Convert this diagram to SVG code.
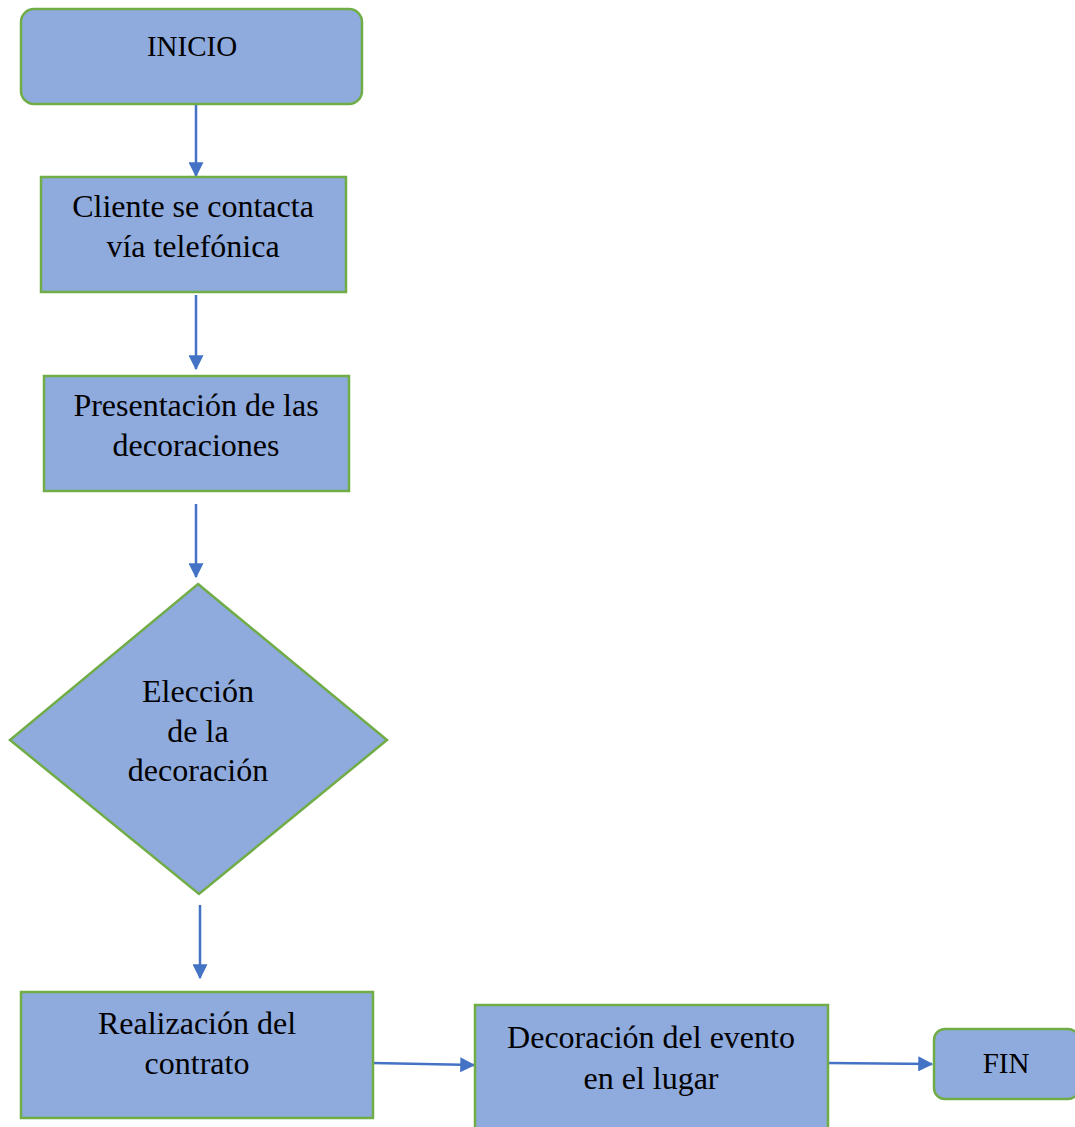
<svg xmlns="http://www.w3.org/2000/svg" width="1075" height="1127" viewBox="0 0 1075 1127">
<style>
.n{fill:#8FAADC;stroke:#70AD47;stroke-width:2.5}
.t{font-family:"Liberation Serif","Times New Roman",serif;font-size:32px;fill:#000;text-anchor:middle}
.s{font-size:29px}
.c{stroke:#4472C4;stroke-width:2.5;fill:none;marker-end:url(#ah)}
</style>
<defs>
<marker id="ah" markerWidth="6" markerHeight="6" refX="5.5" refY="3" orient="auto" markerUnits="strokeWidth">
<path d="M0,0 L6,3 L0,6 z" fill="#4472C4"/>
</marker>
</defs>
<rect width="1075" height="1127" fill="#fff"/>
<g id="connectors">
<line class="c" x1="196" y1="104" x2="196" y2="176"/>
<line class="c" x1="196" y1="295" x2="196" y2="369"/>
<line class="c" x1="196" y1="504" x2="196" y2="577"/>
<line class="c" x1="200" y1="905" x2="200" y2="978"/>
<line class="c" x1="373" y1="1063" x2="474" y2="1065"/>
<line class="c" x1="828" y1="1063" x2="932" y2="1064"/>
</g>
<g id="inicio">
<rect class="n" x="21" y="9" width="341" height="95" rx="13"/>
<text class="t s" x="192" y="56">INICIO</text>
</g>
<g id="cliente">
<rect class="n" x="41" y="177" width="305" height="115"/>
<text class="t" x="193" y="217">Cliente se contacta</text>
<text class="t" x="193" y="257">vía telefónica</text>
</g>
<g id="presentacion">
<rect class="n" x="44" y="376" width="305" height="115"/>
<text class="t" x="196" y="416">Presentación de las</text>
<text class="t" x="196" y="456">decoraciones</text>
</g>
<g id="eleccion">
<polygon class="n" points="198,584 387,740 199,894 10,740"/>
<text class="t" x="198" y="702">Elección</text>
<text class="t" x="198" y="742">de la</text>
<text class="t" x="198" y="781">decoración</text>
</g>
<g id="contrato">
<rect class="n" x="21" y="992" width="352" height="126"/>
<text class="t" x="197" y="1034">Realización del</text>
<text class="t" x="197" y="1074">contrato</text>
</g>
<g id="decoracion">
<rect class="n" x="475" y="1005" width="353" height="130"/>
<text class="t" x="651" y="1048">Decoración del evento</text>
<text class="t" x="651" y="1089">en el lugar</text>
</g>
<g id="fin">
<rect class="n" x="934" y="1029" width="145" height="70" rx="11"/>
<text class="t s" x="1006" y="1073">FIN</text>
</g>
</svg>
